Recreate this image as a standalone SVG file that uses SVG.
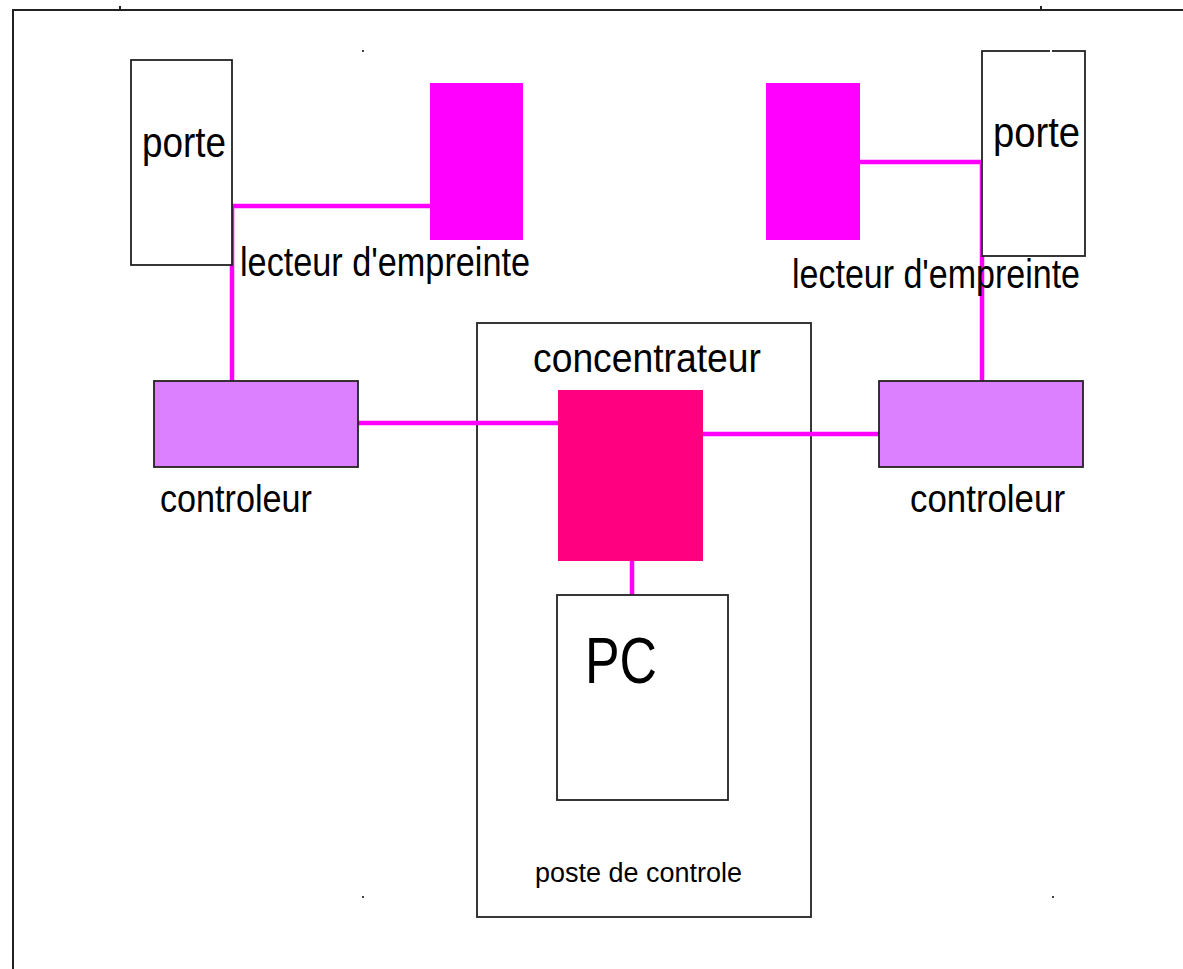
<svg xmlns="http://www.w3.org/2000/svg" width="1183" height="969" viewBox="0 0 1183 969">
<style>
  .box{fill:#ffffff;stroke:#222222;stroke-width:1.8}
  .outline{fill:none;stroke:#222222;stroke-width:1.8}
  .ctrl{fill:#DD80FF;stroke:#222222;stroke-width:1.8}
  .reader{fill:#FF00FF;stroke:none}
  .conc{fill:#FF0080;stroke:none}
  .wire{stroke:#FF00FF;stroke-width:4.5;fill:none}
  .frame{stroke:#222222;stroke-width:2;fill:none}
  text{font-family:"Liberation Sans",Arial,sans-serif;fill:#000000}
</style>
<rect x="0" y="0" width="1183" height="969" fill="#ffffff"/>
<g id="frame">
  <path class="frame" d="M13,969 V10 H1183"/>
  <path class="frame" d="M120,6 V10 M1041,6 V10" stroke-width="1.5"/>
  <rect x="362" y="50" width="2" height="2" fill="#444"/>
  <rect x="362" y="896" width="2" height="2" fill="#444"/>
  <rect x="1052" y="896" width="2" height="2" fill="#444"/>
</g>
<g id="poste">
  <rect class="outline" x="477" y="323" width="334" height="594"/>
  <text x="535" y="882" font-size="27" textLength="207" lengthAdjust="spacingAndGlyphs">poste de controle</text>
</g>
<g id="connectors">
  <path class="wire" d="M430,206 H232 V381"/>
  <path class="wire" d="M860,162 H982 V381"/>
  <path class="wire" d="M358,423 H558"/>
  <path class="wire" d="M703,434 H879"/>
  <path class="wire" d="M632,561 V595" stroke-width="3.5"/>
</g>
<g id="porte-left">
  <rect class="box" x="131" y="60" width="101" height="205"/>
  <text x="142" y="157" font-size="43" textLength="84" lengthAdjust="spacingAndGlyphs">porte</text>
</g>
<g id="lecteur-left">
  <rect class="reader" x="430" y="83" width="93" height="157"/>
  <text x="240" y="276" font-size="41" textLength="290" lengthAdjust="spacingAndGlyphs">lecteur d'empreinte</text>
</g>
<g id="porte-right">
  <rect class="box" x="982" y="51" width="103" height="205"/>
  <line x1="1050" y1="51" x2="1052" y2="51" stroke="#ffffff" stroke-width="2"/>
  <text x="993" y="147" font-size="43" textLength="87" lengthAdjust="spacingAndGlyphs">porte</text>
</g>
<g id="lecteur-right">
  <rect class="reader" x="766" y="83" width="94" height="157"/>
  <text x="792" y="288" font-size="41" textLength="288" lengthAdjust="spacingAndGlyphs">lecteur d'empreinte</text>
</g>
<g id="controleur-left">
  <rect class="ctrl" x="154" y="381" width="204" height="86"/>
  <text x="160" y="512" font-size="38" textLength="152" lengthAdjust="spacingAndGlyphs">controleur</text>
</g>
<g id="controleur-right">
  <rect class="ctrl" x="879" y="381" width="204" height="86"/>
  <text x="910" y="512" font-size="38" textLength="155" lengthAdjust="spacingAndGlyphs">controleur</text>
</g>
<g id="concentrateur">
  <rect class="conc" x="558" y="390" width="145" height="171"/>
  <text x="533" y="372" font-size="40" textLength="228" lengthAdjust="spacingAndGlyphs">concentrateur</text>
</g>
<g id="pc">
  <rect class="box" x="557" y="595" width="171" height="205"/>
  <text x="585" y="683" font-size="64" textLength="72" lengthAdjust="spacingAndGlyphs">PC</text>
</g>
</svg>
